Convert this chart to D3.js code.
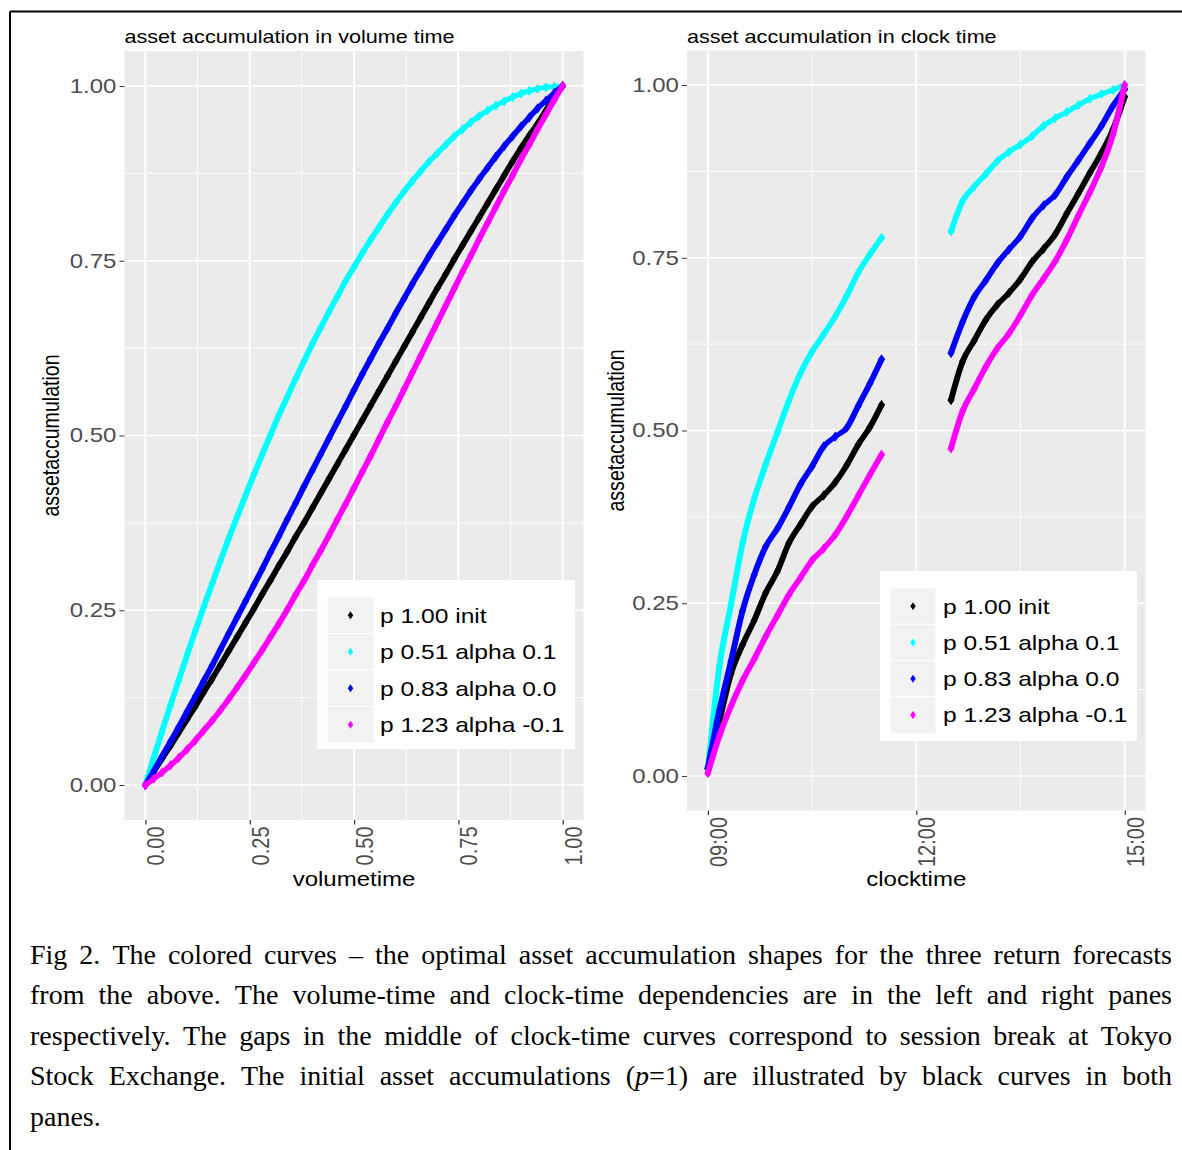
<!DOCTYPE html>
<html>
<head>
<meta charset="utf-8">
<script src="https://cdn.jsdelivr.net/npm/d3@7"></script>
<style>
  body { margin: 0; background: #fff; }
  svg { display: block; }
</style>
</head>
<body>
<svg id="fig" width="1182" height="1150"></svg>
<script>
// legend entries
const seriesNames = ["p 1.00 init", "p 0.51 alpha 0.1", "p 0.83 alpha 0.0", "p 1.23 alpha -0.1"];
const seriesColors = ["#000000", "#00FFFF", "#0000FF", "#FF00FF"];

// left pane, volume time
const volumeTime = [0, 0.02, 0.04, 0.06, 0.08, 0.10, 0.12, 0.14, 0.16, 0.18, 0.20, 0.22, 0.24, 0.26, 0.28,
  0.30, 0.32, 0.34, 0.36, 0.38, 0.40, 0.42, 0.44, 0.46, 0.48, 0.50, 0.52, 0.54, 0.56, 0.58, 0.60, 0.62,
  0.64, 0.66, 0.68, 0.70, 0.72, 0.74, 0.76, 0.78, 0.80, 0.82, 0.84, 0.86, 0.88, 0.90, 0.92, 0.94, 0.96,
  0.98, 1.00];
const volInit = [0, .019, .038, .056, .075, .094, .113, .133, .152, .172, .192, .212, .232, .252, .273,
  .293, .314, .334, .355, .375, .396, .417, .438, .459, .480, .501, .522, .543, .564, .585, .606, .627,
  .648, .669, .690, .711, .731, .752, .772, .792, .812, .832, .852, .872, .892, .911, .929, .946, .965,
  .983, 1];
const volAlphaPos = [0, .039, .077, .114, .150, .186, .221, .255, .288, .321, .353, .384, .414, .444, .473,
  .501, .529, .555, .581, .606, .631, .654, .677, .699, .721, .741, .761, .780, .798, .816, .833, .849,
  .864, .878, .892, .904, .916, .928, .938, .948, .957, .965, .972, .978, .984, .989, .993, .996, .998,
  .999, 1];
const volAlphaZero = [0, .020, .041, .062, .083, .105, .127, .149, .171, .194, .217, .240, .263, .286, .309,
  .333, .356, .380, .403, .427, .450, .473, .496, .519, .542, .565, .588, .610, .632, .653, .675, .696,
  .717, .737, .757, .776, .795, .814, .832, .850, .867, .883, .899, .914, .928, .942, .955, .968, .979,
  .990, 1];
const volAlphaNeg = [0, .009, .018, .028, .039, .051, .064, .078, .092, .107, .123, .140, .157, .175, .193,
  .212, .231, .251, .272, .292, .314, .335, .357, .380, .402, .425, .448, .471, .495, .519, .542, .566,
  .590, .614, .638, .662, .686, .710, .734, .757, .781, .804, .827, .850, .872, .895, .916, .938, .959,
  .980, 1];

// right pane, clock time (two sessions)
const amTimes = ["09:00", "09:10", "09:20", "09:30", "09:40", "09:50", "10:00", "10:10", "10:20", "10:30",
  "10:40", "10:50", "11:00", "11:10", "11:20", "11:30"];
const pmTimes = ["12:30", "12:40", "12:50", "13:00", "13:10", "13:20", "13:30", "13:40", "13:50", "14:00",
  "14:10", "14:20", "14:30", "14:40", "14:50", "15:00"];
const clockInitAm = [.011, .080, .148, .190, .225, .265, .296, .337, .364, .390, .406, .425, .450, .480, .505, .537];
const clockInitPm = [.544, .600, .630, .660, .682, .699, .719, .744, .763, .784, .814, .843, .873, .902, .936, .983];
const clockPosAm = [.009, .159, .248, .337, .401, .451, .497, .543, .583, .614, .639, .665, .695, .729, .755, .779];
const clockPosPm = [.788, .832, .853, .871, .890, .903, .914, .926, .941, .952, .961, .971, .980, .987, .993, 1.000];
const clockZeroAm = [.011, .095, .166, .239, .291, .332, .358, .389, .422, .448, .477, .491, .504, .536, .568, .603];
const clockZeroPm = [.612, .657, .693, .717, .742, .762, .781, .807, .826, .841, .867, .891, .916, .941, .970, .994];
const clockNegAm = [.004, .058, .101, .138, .169, .202, .232, .262, .287, .312, .329, .349, .376, .406, .436, .465];
const clockNegPm = [.474, .528, .560, .592, .619, .640, .667, .696, .720, .745, .776, .811, .845, .882, .929, 1.000];

// ticks
const yTicks = [0, 0.25, 0.5, 0.75, 1];
const yMinor = [0.125, 0.375, 0.625, 0.875];
const volTicks = [0, 0.25, 0.5, 0.75, 1];
const volMinor = [0.125, 0.375, 0.625, 0.875];
const clockTicks = ["09:00", "12:00", "15:00"];
const clockMinor = ["10:30", "13:30"];

const captionLines = [
  "Fig 2. The colored curves \u2013 the optimal asset accumulation shapes for the three return forecasts",
  "from the above. The volume-time and clock-time dependencies are in the left and right panes",
  "respectively. The gaps in the middle of clock-time curves correspond to session break at Tokyo",
  "Stock Exchange. The initial asset accumulations (p=1) are illustrated by black curves in both",
  "panes."
];

const FONT = "'Liberation Sans', Arial, sans-serif";
const SX = 1.2;            // the figure is stretched sideways
const px = v => v / SX;
const parseT = d3.timeParse("%H:%M");

const svg = d3.select("#fig");

// frame
svg.append("line").attr("x1", 10).attr("y1", 11.5).attr("x2", 1182).attr("y2", 11.5)
    .attr("stroke", "#000").attr("stroke-width", 2);
svg.append("line").attr("x1", 10).attr("y1", 11.5).attr("x2", 10).attr("y2", 1150)
    .attr("stroke", "#000").attr("stroke-width", 2);

const chart = svg.append("g").attr("transform", `scale(${SX},1)`);

const leftBox = {x0: 124.5, x1: 583.5, y0: 51, y1: 820};
const rightBox = {x0: 687, x1: 1145.5, y0: 50.5, y1: 810.5};

const xVol = d3.scaleLinear().domain([-0.05, 1.05]).range([px(leftBox.x0), px(leftBox.x1)]);
const yLeft = d3.scaleLinear().domain([-0.05, 1.05]).range([leftBox.y1, leftBox.y0]);
const xClock = d3.scaleTime().domain([parseT("08:42"), parseT("15:18")]).range([px(rightBox.x0), px(rightBox.x1)]);
const yRight = d3.scaleLinear().domain([-0.05, 1.05]).range([rightBox.y1, rightBox.y0]);

const drawPanel = (box, xScale, yScale, xMajor, xMinor, xFmt, title, xTitle, yTitleX) => {
    const g = chart.append("g");
    const x0 = px(box.x0), x1 = px(box.x1);

    g.append("rect")
        .attr("x", x0).attr("y", box.y0)
        .attr("width", x1 - x0).attr("height", box.y1 - box.y0)
        .attr("fill", "#EBEBEB");

    g.selectAll("line.ymin").data(yMinor).join("line").attr("class", "ymin")
        .attr("x1", x0).attr("x2", x1)
        .attr("y1", d => yScale(d)).attr("y2", d => yScale(d))
        .attr("stroke", "#fff").attr("stroke-width", 0.8);
    g.selectAll("line.xmin").data(xMinor).join("line").attr("class", "xmin")
        .attr("x1", d => xScale(d)).attr("x2", d => xScale(d))
        .attr("y1", box.y0).attr("y2", box.y1)
        .attr("stroke", "#fff").attr("stroke-width", 0.8);
    g.selectAll("line.ymaj").data(yTicks).join("line").attr("class", "ymaj")
        .attr("x1", x0).attr("x2", x1)
        .attr("y1", d => yScale(d)).attr("y2", d => yScale(d))
        .attr("stroke", "#fff").attr("stroke-width", 1.6);
    g.selectAll("line.xmaj").data(xMajor).join("line").attr("class", "xmaj")
        .attr("x1", d => xScale(d)).attr("x2", d => xScale(d))
        .attr("y1", box.y0).attr("y2", box.y1)
        .attr("stroke", "#fff").attr("stroke-width", 1.6);

    const yAxis = g.append("g")
        .attr("transform", `translate(${x0},0)`)
        .call(d3.axisLeft(yScale).tickValues(yTicks).tickFormat(d3.format(".2f")).tickSize(4.2).tickPadding(2.5));

    const xAxis = g.append("g")
        .attr("transform", `translate(0,${box.y1})`)
        .call(d3.axisBottom(xScale).tickValues(xMajor).tickFormat(xFmt).tickSize(4.5));
    xAxis.selectAll("text")
        .attr("transform", "rotate(-90)")
        .attr("x", -6.5).attr("y", 0).attr("dy", "0.77em")
        .attr("text-anchor", "end");

    [yAxis, xAxis].forEach(a => {
        a.attr("font-family", FONT).attr("font-size", 20);
        a.select(".domain").remove();
        a.selectAll(".tick line").attr("stroke", "#333333").attr("stroke-width", 1);
        a.selectAll(".tick text").attr("fill", "#4D4D4D");
    });

    g.append("text")
        .attr("x", x0).attr("y", 43)
        .attr("font-family", FONT).attr("font-size", 18).attr("fill", "#000")
        .text(title);

    g.append("text")
        .attr("x", (x0 + x1) / 2).attr("y", 886.5)
        .attr("text-anchor", "middle")
        .attr("font-family", FONT).attr("font-size", 20).attr("fill", "#000")
        .text(xTitle);

    g.append("text")
        .attr("transform", `translate(${px(yTitleX)},${(box.y0 + box.y1) / 2}) rotate(-90)`)
        .attr("text-anchor", "middle")
        .attr("font-family", FONT).attr("font-size", 19.6).attr("fill", "#000")
        .text("assetaccumulation");

    return g;
};

const drawCurve = (g, pts, xScale, yScale, color) => {
    const line = d3.line()
        .x(d => xScale(d.x))
        .y(d => yScale(d.y))
        .curve(d3.curveMonotoneX);
    g.append("path")
        .datum(pts)
        .attr("fill", "none")
        .attr("stroke", color)
        .attr("stroke-width", 5)
        .attr("stroke-linejoin", "round")
        .attr("stroke-linecap", "round")
        .attr("d", line);
    g.selectAll(null).data(pts).join("path")
        .attr("transform", d => `translate(${xScale(d.x)},${yScale(d.y)})`)
        .attr("d", d3.symbol().type(d3.symbolDiamond).size(30))
        .attr("fill", color);
};

const drawLegend = (box, key, rowTop, rowH, textX) => {
    const g = chart.append("g");
    g.append("rect")
        .attr("x", px(box.x0)).attr("y", box.y0)
        .attr("width", px(box.x1) - px(box.x0)).attr("height", box.y1 - box.y0)
        .attr("fill", "#fff");
    seriesNames.forEach((name, i) => {
        const top = rowTop + i * rowH;
        g.append("rect")
            .attr("x", px(key.x0)).attr("y", top)
            .attr("width", px(key.x1) - px(key.x0)).attr("height", rowH)
            .attr("fill", "#F2F2F2").attr("stroke", "#fff").attr("stroke-width", 1);
        g.append("path")
            .attr("transform", `translate(${px((key.x0 + key.x1) / 2)},${top + rowH / 2})`)
            .attr("d", d3.symbol().type(d3.symbolDiamond).size(18))
            .attr("fill", seriesColors[i]);
        g.append("text")
            .attr("x", px(textX)).attr("y", top + rowH / 2)
            .attr("dy", "0.36em")
            .attr("font-family", FONT).attr("font-size", 20.5).attr("fill", "#000")
            .text(name);
    });
};

// left pane
const gL = drawPanel(leftBox, xVol, yLeft, volTicks, volMinor, d3.format(".2f"),
    "asset accumulation in volume time", "volumetime", 58.5);
[volInit, volAlphaPos, volAlphaZero, volAlphaNeg].forEach((vals, i) => {
    const pts = volumeTime.map((x, k) => ({x: x, y: vals[k]}));
    drawCurve(gL, pts, xVol, yLeft, seriesColors[i]);
});
drawLegend({x0: 317, x1: 575, y0: 580, y1: 749}, {x0: 327, x1: 374}, 597, 36.5, 380);

// right pane
const gR = drawPanel(rightBox, xClock, yRight, clockTicks.map(parseT), clockMinor.map(parseT),
    d3.timeFormat("%H:%M"), "asset accumulation in clock time", "clocktime", 623.5);
const clockSeries = [
    [clockInitAm, clockInitPm],
    [clockPosAm, clockPosPm],
    [clockZeroAm, clockZeroPm],
    [clockNegAm, clockNegPm]
];
clockSeries.forEach((pair, i) => {
    const am = amTimes.map((t, k) => ({x: parseT(t), y: pair[0][k]}));
    const pm = pmTimes.map((t, k) => ({x: parseT(t), y: pair[1][k]}));
    drawCurve(gR, am, xClock, yRight, seriesColors[i]);
    drawCurve(gR, pm, xClock, yRight, seriesColors[i]);
});
drawLegend({x0: 880, x1: 1137, y0: 571, y1: 741}, {x0: 890, x1: 936}, 588, 36.3, 943);

// caption, justified like the page text
const caption = svg.append("g")
    .attr("font-family", "'Liberation Serif', 'Times New Roman', serif")
    .attr("font-size", 28)
    .attr("fill", "#000");
const capLeft = 30, capRight = 1172, capBase = 963.5, capStep = 40.5;

captionLines.forEach((line, i) => {
    const words = line.split(" ");
    const y = capBase + i * capStep;
    const texts = words.map(w => {
        const t = caption.append("text").attr("y", y);
        if (w === "(p=1)") {
            t.append("tspan").text("(");
            t.append("tspan").attr("font-style", "italic").text("p");
            t.append("tspan").text("=1)");
        } else {
            t.text(w);
        }
        return t;
    });
    const widths = texts.map(t => t.node().getComputedTextLength());
    const last = i === captionLines.length - 1;
    const gap = last ? 7 : (capRight - capLeft - d3.sum(widths)) / (words.length - 1);
    let x = capLeft;
    texts.forEach((t, k) => {
        t.attr("x", x);
        x += widths[k] + gap;
    });
});
</script>
</body>
</html>
